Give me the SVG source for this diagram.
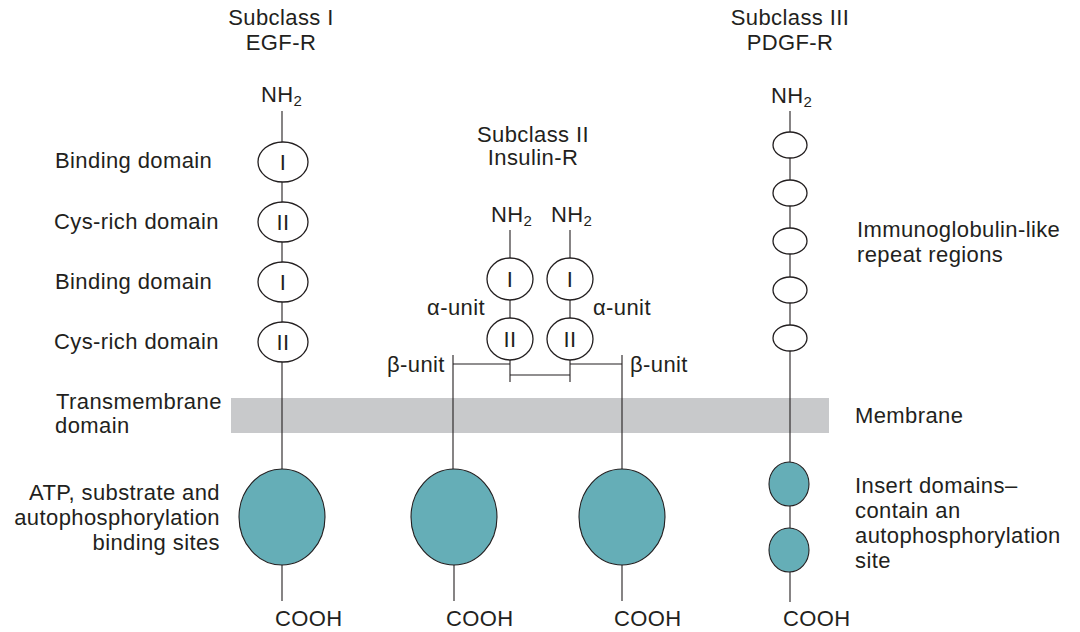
<svg xmlns="http://www.w3.org/2000/svg" width="1080" height="632" viewBox="0 0 1080 632">
<style>
text{font-family:"Liberation Sans",Arial,sans-serif;font-size:22px;fill:#231f20;letter-spacing:0.4px}
.c{text-anchor:middle}
.e{text-anchor:end}
.sub{font-size:15px;letter-spacing:0}
.ln{stroke:#231f20;stroke-width:1.1;fill:none}
.ov{fill:#fff;stroke:#231f20;stroke-width:1.3}
.tl{fill:#65aeb7;stroke:#231f20;stroke-width:1.1}
</style>
<rect id="membrane" x="231" y="398" width="598" height="35" fill="#c8c9cb"/>
<g id="connectors" class="ln">
<line x1="282" y1="111" x2="282" y2="469"/>
<line x1="282" y1="565" x2="282" y2="601"/>
<line x1="510" y1="230" x2="510" y2="382"/>
<line x1="570" y1="230" x2="570" y2="382"/>
<line x1="510" y1="375" x2="570" y2="375"/>
<line x1="453" y1="364" x2="510" y2="364"/>
<line x1="570" y1="364" x2="622" y2="364"/>
<line x1="453" y1="355" x2="453" y2="469"/>
<line x1="622" y1="355" x2="622" y2="469"/>
<line x1="454" y1="565" x2="454" y2="601"/>
<line x1="622" y1="565" x2="622" y2="601"/>
<line x1="790" y1="111" x2="790" y2="462"/>
<line x1="790" y1="506" x2="790" y2="528"/>
<line x1="790" y1="572" x2="790" y2="602"/>
</g>
<g id="egf">
<text class="c" x="281" y="25">Subclass I</text>
<text class="c" x="281" y="50">EGF-R</text>
<text x="261" y="102">NH<tspan class="sub" dy="4">2</tspan></text>
<ellipse class="ov" cx="283" cy="162" rx="25" ry="20"/>
<text class="c" x="283" y="170">I</text>
<ellipse class="ov" cx="283" cy="222" rx="25" ry="20"/>
<text class="c" x="283" y="230">II</text>
<ellipse class="ov" cx="283" cy="282" rx="25" ry="20"/>
<text class="c" x="283" y="290">I</text>
<ellipse class="ov" cx="283" cy="342" rx="25" ry="20"/>
<text class="c" x="283" y="350">II</text>
<ellipse class="tl" cx="282" cy="517" rx="43" ry="48"/>
<text x="275" y="626">COOH</text>
</g>
<g id="insulin">
<text class="c" x="533" y="142">Subclass II</text>
<text class="c" x="533" y="165">Insulin-R</text>
<text x="491" y="222">NH<tspan class="sub" dy="4">2</tspan></text>
<text x="551" y="222">NH<tspan class="sub" dy="4">2</tspan></text>
<ellipse class="ov" cx="510" cy="279" rx="23" ry="21"/>
<text class="c" x="510" y="287">I</text>
<ellipse class="ov" cx="570" cy="279" rx="23" ry="21"/>
<text class="c" x="570" y="287">I</text>
<ellipse class="ov" cx="510" cy="339" rx="23" ry="21"/>
<text class="c" x="510" y="347">II</text>
<ellipse class="ov" cx="570" cy="339" rx="23" ry="21"/>
<text class="c" x="570" y="347">II</text>
<text class="e" x="485" y="315">α-unit</text>
<text x="593" y="315">α-unit</text>
<text x="387" y="372">β-unit</text>
<text x="630" y="372">β-unit</text>
<ellipse class="tl" cx="454" cy="517" rx="43" ry="48"/>
<ellipse class="tl" cx="622" cy="517" rx="43" ry="48"/>
<text x="446" y="626">COOH</text>
<text x="614" y="626">COOH</text>
</g>
<g id="pdgf">
<text class="c" x="790" y="25">Subclass III</text>
<text class="c" x="790" y="50">PDGF-R</text>
<text x="771" y="103">NH<tspan class="sub" dy="4">2</tspan></text>
<ellipse class="ov" cx="790" cy="145" rx="17" ry="13"/>
<ellipse class="ov" cx="790" cy="193" rx="17" ry="13"/>
<ellipse class="ov" cx="790" cy="241" rx="17" ry="13"/>
<ellipse class="ov" cx="790" cy="290" rx="17" ry="13"/>
<ellipse class="ov" cx="790" cy="338" rx="17" ry="13"/>
<ellipse class="tl" cx="789" cy="484" rx="20" ry="22"/>
<ellipse class="tl" cx="789" cy="550" rx="20" ry="22"/>
<text x="783" y="626">COOH</text>
</g>
<g id="left-labels">
<text x="55" y="168">Binding domain</text>
<text x="54" y="229">Cys-rich domain</text>
<text x="55" y="289">Binding domain</text>
<text x="54" y="349">Cys-rich domain</text>
<text x="56" y="409">Transmembrane</text>
<text x="55" y="433">domain</text>
<text class="e" x="220" y="500">ATP, substrate and</text>
<text class="e" x="220" y="525">autophosphorylation</text>
<text class="e" x="220" y="550">binding sites</text>
</g>
<g id="right-labels">
<text x="857" y="237">Immunoglobulin-like</text>
<text x="857" y="262">repeat regions</text>
<text x="855" y="423">Membrane</text>
<text x="855" y="493">Insert domains–</text>
<text x="855" y="518">contain an</text>
<text x="855" y="543">autophosphorylation</text>
<text x="855" y="568">site</text>
</g>
</svg>
